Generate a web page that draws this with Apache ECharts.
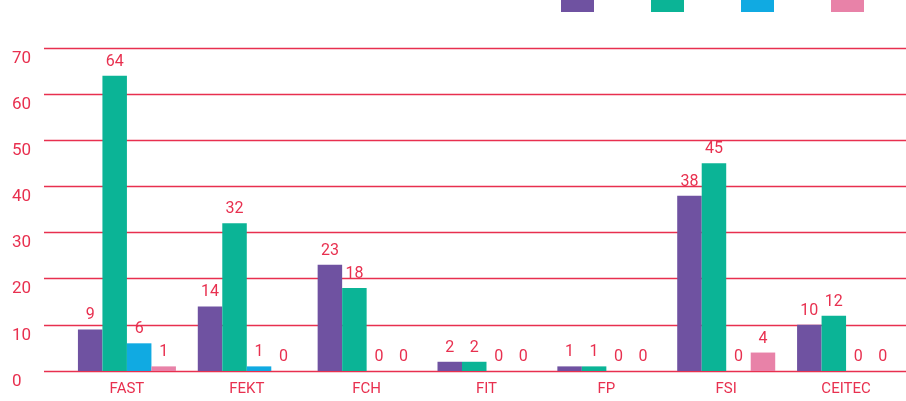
<!DOCTYPE html>
<html>
<head>
<meta charset="utf-8">
<script src="https://cdn.jsdelivr.net/npm/echarts@6/dist/echarts.min.js"></script>
<style>
  html, body { margin: 0; padding: 0; background: #fff; }
  #chart { width: 906px; height: 401px; }
</style>
</head>
<body>
<div id="chart"></div>
<script>
const categories = ['FAST', 'FEKT', 'FCH', 'FIT', 'FP', 'FSI', 'CEITEC']
const seriesNames = ['Řada 1', 'Řada 2', 'Řada 3', 'Řada 4']
const purpleValues = [9, 14, 23, 2, 1, 38, 10]
const greenValues = [64, 32, 18, 2, 1, 45, 12]
const blueValues = [6, 1, 0, 0, 0, 0, 0]
const pinkValues = [1, 0, 0, 0, 0, 4, 0]
const yTicks = [0, 10, 20, 30, 40, 50, 60, 70]

const RED = '#e8304f'
const colors = ['#6f52a1', '#0bb496', '#10aae2', '#e882a8']
const font = 'Roboto, "DejaVu Sans", sans-serif'

const chart = echarts.init(document.getElementById('chart'))

const makeSeries = (name, data, i) => ({
  name,
  type: 'bar',
  xAxisIndex: 1,
  yAxisIndex: 1,
  data,
  barWidth: 24.5,
  barGap: '0%',
  itemStyle: { color: colors[i] },
  label: {
    show: true,
    position: 'top',
    distance: 6,
    color: RED,
    fontSize: 16,
    fontFamily: font
  }
})

chart.setOption({
  animation: false,
  backgroundColor: '#fff',
  legend: {
    left: 556,
    top: -9,
    icon: 'rect',
    itemWidth: 33,
    itemHeight: 16,
    itemGap: 57,
    formatter: () => '',
    selectedMode: false,
    data: seriesNames
  },
  grid: [
    { left: 44, right: 0, top: 48, bottom: 30 },
    { left: 67, right: -2, top: 48, bottom: 30 }
  ],
  xAxis: [
    { type: 'value', gridIndex: 0, show: false, min: 0, max: 1 },
    {
      type: 'category',
      gridIndex: 1,
      data: categories,
      axisLine: { show: false },
      axisTick: { show: false },
      axisLabel: { color: RED, fontSize: 15, fontFamily: font, margin: 11 }
    }
  ],
  yAxis: [
    {
      type: 'value',
      gridIndex: 0,
      min: yTicks[0],
      max: yTicks[yTicks.length - 1],
      interval: 10,
      axisLine: { show: false },
      axisTick: { show: false },
      splitLine: { lineStyle: { color: RED, width: 1.3 } },
      axisLabel: {
        color: RED,
        fontSize: 17,
        fontFamily: font,
        align: 'left',
        verticalAlign: 'top',
        margin: 32,
        padding: [2, 0, 0, 0]
      }
    },
    {
      type: 'value',
      gridIndex: 1,
      min: yTicks[0],
      max: yTicks[yTicks.length - 1],
      show: false
    }
  ],
  series: [
    makeSeries(seriesNames[0], purpleValues, 0),
    makeSeries(seriesNames[1], greenValues, 1),
    makeSeries(seriesNames[2], blueValues, 2),
    makeSeries(seriesNames[3], pinkValues, 3)
  ]
})
</script>
</body>
</html>
